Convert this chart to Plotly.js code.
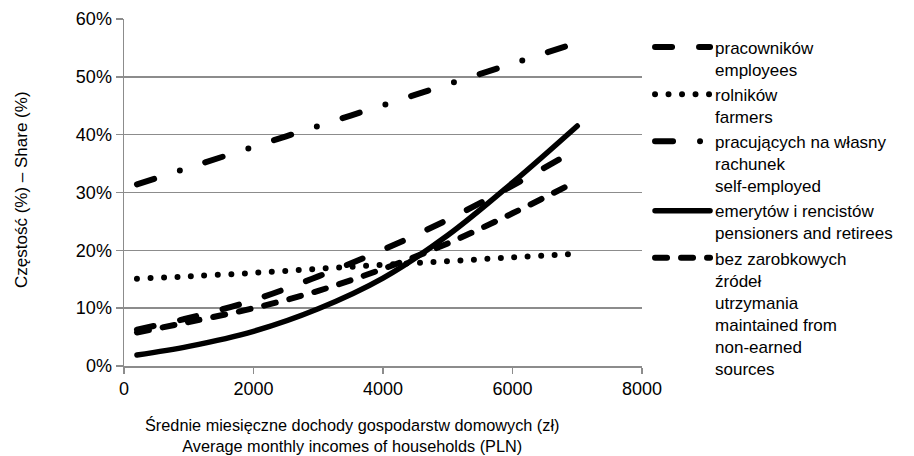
<!DOCTYPE html>
<html>
<head>
<meta charset="utf-8">
<script src="https://cdn.plot.ly/plotly-3.0.1.min.js"></script>
<style>
  html, body { margin: 0; padding: 0; background: #fff; }
  #chart { width: 914px; height: 456px; }
  .js-line, .legendlines { stroke-linecap: round !important; }
</style>
</head>
<body>
<div id="chart"></div>
<script>
// Income (PLN) at which values were read
const incomes = [200, 1000, 2000, 3000, 4000, 5000, 6000, 7000];

// Shares (%) per household group
const employees    = [6.3, 8.3, 11.4, 15.5, 20.1, 25.3, 31.2, 37.5];
const farmers      = [15.1, 15.5, 16.1, 16.8, 17.5, 18.1, 18.8, 19.4];
const selfEmployed = [31.4, 34.3, 37.9, 41.5, 45.1, 48.7, 52.3, 55.9];
const pensioners   = [1.9, 3.4, 6.0, 9.9, 15.2, 22.6, 31.7, 41.5];
const nonEarned    = [5.8, 7.6, 10.0, 13.0, 16.8, 21.2, 26.4, 32.0];

const seriesNames = [
  "pracowników<br>employees",
  "rolników<br>farmers",
  "pracujących na własny<br>rachunek<br>self-employed",
  "emerytów i rencistów<br>pensioners and retirees",
  "bez zarobkowych<br>źródeł<br>utrzymania<br>maintained from<br>non-earned<br>sources"
];

const yTickVals = [0, 10, 20, 30, 40, 50, 60];
const yTickText = ["0%", "10%", "20%", "30%", "40%", "50%", "60%"];
const xTickVals = [0, 2000, 4000, 6000, 8000];

const xTitle = "Średnie miesięczne dochody gospodarstw domowych (zł)<br>Average monthly incomes of households (PLN)";
const yTitle = "Częstość (%) – Share (%)";

const values = [employees, farmers, selfEmployed, pensioners, nonEarned];
const dashes = ["17px,27px", "0px,13.5px", "18px,27px,0px,27px", "solid", "12px,14px"];
const widths = [6, 6, 6, 5.5, 6];

const traces = values.map((v, i) => ({
  x: incomes,
  y: v,
  name: seriesNames[i],
  type: "scatter",
  mode: "lines",
  line: { color: "#000", width: widths[i], dash: dashes[i], shape: "spline", smoothing: 1 },
  hoverinfo: "skip"
}));

const font = "Liberation Sans, Arial, sans-serif";
const grid = "#8c8c8c";

const layout = {
  width: 914,
  height: 456,
  margin: { l: 124, r: 272, t: 19, b: 90 },
  paper_bgcolor: "#fff",
  plot_bgcolor: "#fff",
  font: { family: font, size: 18, color: "#000" },
  showlegend: true,
  legend: {
    x: 1.0155, xanchor: "left",
    y: 0.97, yanchor: "top",
    font: { family: font, size: 17, color: "#000" },
    itemwidth: 55,
    valign: "top",
    bgcolor: "rgba(0,0,0,0)",
    tracegroupgap: 0
  },
  xaxis: {
    range: [0, 8000],
    tickvals: xTickVals,
    ticktext: xTickVals.map(String),
    showgrid: false,
    zeroline: false,
    showline: true,
    linecolor: grid,
    linewidth: 1.5,
    ticks: "outside",
    ticklen: 6,
    tickwidth: 1.5,
    tickcolor: grid,
    tickfont: { family: font, size: 18, color: "#000" },
    fixedrange: true
  },
  yaxis: {
    range: [0, 60],
    tickvals: yTickVals,
    ticktext: yTickText,
    showgrid: true,
    gridcolor: grid,
    gridwidth: 1.5,
    zeroline: false,
    showline: true,
    linecolor: grid,
    linewidth: 1.5,
    ticks: "outside",
    ticklen: 7,
    tickwidth: 1.5,
    tickcolor: grid,
    tickfont: { family: font, size: 18, color: "#000" },
    fixedrange: true
  },
  annotations: [
    {
      text: xTitle, xref: "paper", yref: "paper",
      x: 0.44, y: -0.2, xanchor: "center", yanchor: "middle",
      showarrow: false, font: { family: font, size: 16.3, color: "#000" }
    },
    {
      text: yTitle, xref: "paper", yref: "paper",
      x: -0.199, y: 0.51, xanchor: "center", yanchor: "middle",
      textangle: -90,
      showarrow: false, font: { family: font, size: 17, color: "#000" }
    }
  ]
};

Plotly.newPlot("chart", traces, layout, { staticPlot: true, displayModeBar: false });
</script>
</body>
</html>
